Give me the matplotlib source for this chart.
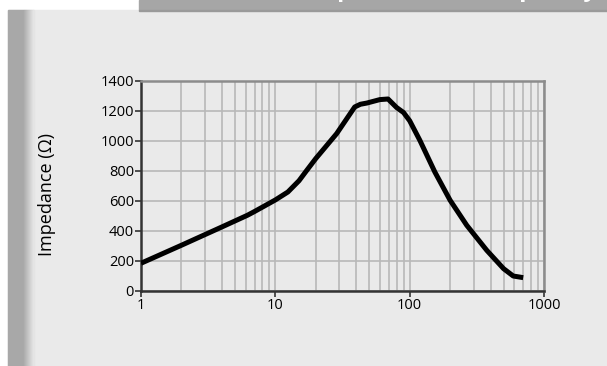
import numpy as np
import matplotlib
matplotlib.use("Agg")
import matplotlib.pyplot as plt
from matplotlib.patches import Rectangle
from matplotlib.ticker import LogLocator, NullFormatter, FixedLocator

plt.rcParams["font.family"] = ["Open Sans", "DejaVu Sans"]

# impedance curve
freq = [1, 2, 4, 6.2, 7, 10, 12.4, 15, 17, 20, 28.6, 39, 43, 48, 60, 69, 80, 90,
        100, 119, 154, 200, 266, 375, 500, 590, 700]
impedance = [185, 305, 427, 505, 530, 607, 660, 735, 800, 883, 1049, 1227, 1245,
             1253, 1276, 1280, 1223, 1190, 1135, 1005, 793, 605, 438, 271,
             149, 100, 89]

y_ticks = [0, 200, 400, 600, 800, 1000, 1200, 1400]
x_ticks = [1, 10, 100, 1000]
x_ticklabels = ["1", "10", "100", "1000"]

W, H = 607, 366
fig = plt.figure(figsize=(W / 100, H / 100), dpi=100)
fig.patch.set_facecolor("white")

# background panel, left strip with fade, top banner
fig.add_artist(Rectangle((8 / W, 0), 1 - 8 / W, (H - 10) / H, transform=fig.transFigure,
                         color="#eaeaea", zorder=0))
fig.add_artist(Rectangle((8 / W, 0), 16 / W, (H - 10) / H, transform=fig.transFigure,
                         color="#a8a8a8", zorder=0))
for i in range(10):
    c = 0xa8 + (0xea - 0xa8) * (i + 1) / 11
    fig.add_artist(Rectangle(((24 + i) / W, 0), 1 / W, (H - 10) / H, transform=fig.transFigure,
                             color="#%02x%02x%02x" % (int(c), int(c), int(c)), zorder=0))
fig.add_artist(Rectangle((139 / W, (H - 10) / H), 1 - 139 / W, 10 / H, transform=fig.transFigure,
                         color="#a6a6a6", zorder=0))
fig.add_artist(Rectangle((139 / W, (H - 11) / H), 1 - 139 / W, 1 / H, transform=fig.transFigure,
                         color="#9a9a9a", zorder=0))
# title mostly cut off by the top edge, only descenders show
fig.text(597 / W, 1 + 4.5 / H, "Impedance vs Frequency", ha="right", va="baseline",
         color="white", fontsize=17, fontweight="bold")

ax = fig.add_axes([141 / W, 75 / H, 403 / W, 210 / H])
ax.set_facecolor("none")
ax.plot(freq, impedance, color="black", lw=3.6, solid_capstyle="butt",
        solid_joinstyle="round", zorder=3)

ax.set_xscale("log")
ax.set_xlim(1, 1000)
ax.set_ylim(0, 1400)
ax.xaxis.set_major_locator(FixedLocator(x_ticks))
ax.set_xticklabels(x_ticklabels)
ax.xaxis.set_minor_locator(LogLocator(base=10, subs=np.arange(2, 10)))
ax.xaxis.set_minor_formatter(NullFormatter())
ax.set_yticks(y_ticks)

ax.grid(True, which="both", axis="x", color="#b8b8b8", lw=1.2)
ax.grid(True, which="major", axis="y", color="#b8b8b8", lw=1.2)
ax.set_axisbelow(True)

for s in ["left", "bottom"]:
    ax.spines[s].set_color("#333333")
    ax.spines[s].set_linewidth(1.8)
for s in ["top", "right"]:
    ax.spines[s].set_color("#8c8c8c")
    ax.spines[s].set_linewidth(1.8)

ax.tick_params(axis="both", which="major", length=4, width=1.2, color="#333333",
               labelsize=10.5, pad=1, labelcolor="black")
ax.tick_params(axis="x", which="minor", length=0)
ax.set_ylabel("Impedance (Ω)", fontsize=13)
ax.yaxis.set_label_coords((56 - 141) / 403, 0.46)

fig.savefig("out.png", dpi=100)
